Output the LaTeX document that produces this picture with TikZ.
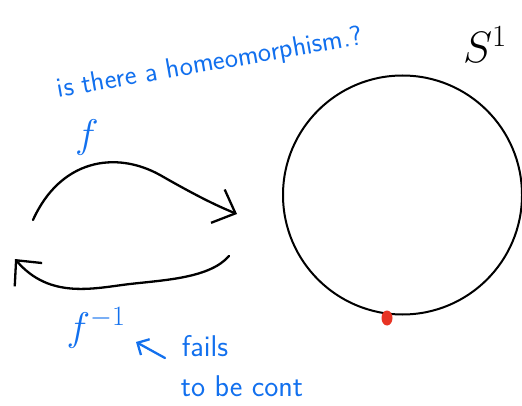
\RequirePackage{fix-cm}
\documentclass[tikz,border=0pt]{standalone}
\usetikzlibrary{arrows.meta, shapes.geometric}
\definecolor{penblue}{RGB}{18,112,238}
\definecolor{dotred}{RGB}{232,52,36}

\begin{document}
\begin{tikzpicture}[x=1pt, y=-1pt, line cap=round, line join=round,
                    mapto/.style={line width=2.3pt, -{Straight Barb[length=19pt, width=36pt, line width=2.3pt]}},
                    ink/.style={text=penblue, font=\fontsize{28}{28}\selectfont\sffamily, inner sep=0pt}]

% full original canvas
\useasboundingbox (0,0) rectangle (522,406);

% ---- S^1: circle with one marked point ----
\node[draw, circle, line width=2pt, minimum size=239pt, inner sep=0pt] (circ) at (402.5,195) {};
\node[fill=dotred, ellipse, minimum width=11pt, minimum height=15pt, inner sep=0pt] (pt) at (387,318) {};
\node[inner sep=0pt] (s1) at (485,45) {\fontsize{44}{44}\selectfont $S^1$};

% ---- f : top arc, f^{-1} : bottom arc ----
\coordinate (fa) at (33,220);  \coordinate (fb) at (237,214);
\coordinate (ga) at (229,256); \coordinate (gb) at (15,259);
\draw[mapto] (fa) .. controls (60,160) and (115,150) .. (160,175)
                  .. controls (195,195) and (215,205) .. (fb);
\draw[mapto] (ga) .. controls (210,278) and (165,280) .. (130,284)
                  .. controls (95,288) and (50,300) .. (gb);

% ---- handwritten labels ----
\node[ink, rotate=10] (ask) at (210,64) {is there a homeomorphism.?};
\node[ink, font=\fontsize{40}{40}\selectfont] (flab) at (87,138) {$f$};
\node[ink, font=\fontsize{40}{40}\selectfont] (finv) at (96,328) {$f^{-1}$};
\node[ink, font=\fontsize{30}{30}\selectfont\sffamily] (fails) at (205,346) {fails};
\node[ink, font=\fontsize{30}{30}\selectfont\sffamily] (cont) at (242,386) {to be cont};

% pointer at f^{-1}
\coordinate (tail) at (165,358); \coordinate (tip) at (136,342);
\draw[penblue, line width=2.3pt, -{Straight Barb[length=9pt, width=18pt, line width=2.3pt]}] (tail) -- (tip);

\end{tikzpicture}
\end{document}
